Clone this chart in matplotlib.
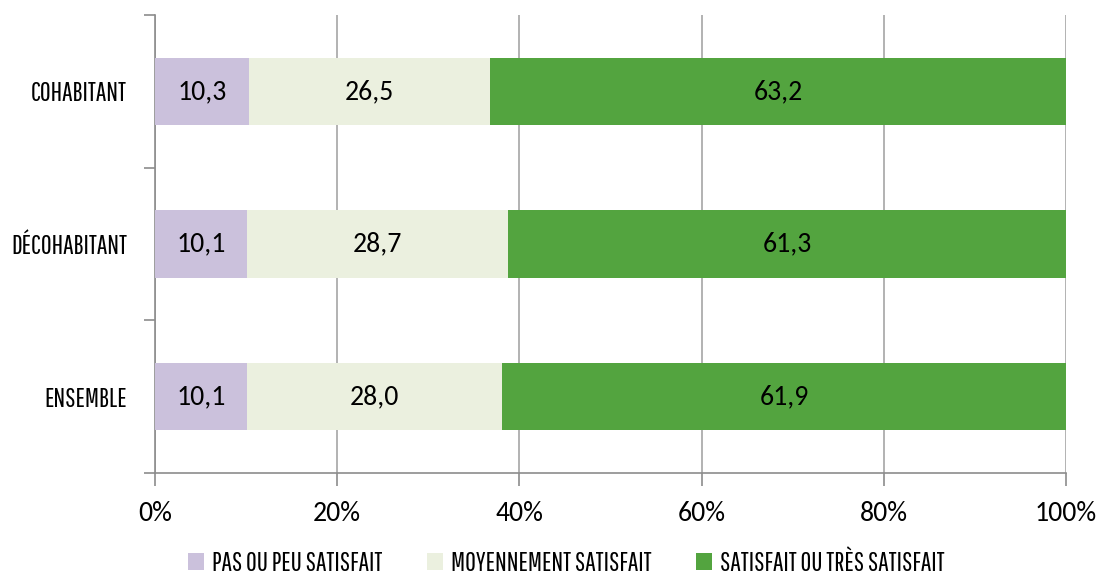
import numpy as np
import matplotlib.pyplot as plt
from matplotlib.ticker import FixedLocator, PercentFormatter

# Données
categories = ['ENSEMBLE', 'DÉCOHABITANT', 'COHABITANT']
pas_satisfait = [10.1, 10.1, 10.3]
moyennement = [28.0, 28.7, 26.5]
satisfait = [61.9, 61.3, 63.2]
series_names = ['PAS OU PEU SATISFAIT', 'MOYENNEMENT SATISFAIT', 'SATISFAIT OU TRÈS SATISFAIT']
colors = ['#cbc1dc', '#ebf0df', '#53a43f']

narrow = ['Pathway Gothic One', 'DejaVu Sans']
num_font = ['Carlito', 'DejaVu Sans']

fig = plt.figure(figsize=(11, 5.74), dpi=100)
ax = fig.add_axes([0.1409, 0.176, 0.8282, 0.7979])

y = np.arange(len(categories))
left = np.zeros(len(categories))
for vals, name, c in zip([pas_satisfait, moyennement, satisfait], series_names, colors):
    bars = ax.barh(y, vals, left=left, height=0.44, color=c, label=name, zorder=3)
    for b, v in zip(bars, vals):
        ax.text(b.get_x() + b.get_width() / 2, b.get_y() + b.get_height() / 2,
                f'{v:.1f}'.replace('.', ','), ha='center', va='center',
                fontsize=20, family=num_font, color='black', zorder=4)
    left += np.array(vals)

ax.set_xlim(0, 100)
ax.set_ylim(-0.5, 2.5)
ax.set_xticks(np.arange(0, 101, 20))
ax.xaxis.set_major_formatter(PercentFormatter(decimals=0))
ax.grid(axis='x', color='#a6a6a6', linewidth=1.2, zorder=1)

ax.set_yticks(y)
ax.set_yticklabels(categories, family=narrow, fontsize=19)
ax.yaxis.set_minor_locator(FixedLocator([-0.5, 0.5, 1.5, 2.5]))
ax.tick_params(axis='y', which='major', length=0, pad=20)
ax.tick_params(axis='y', which='minor', length=8, color='#8c8c8c', width=1.2)
ax.tick_params(axis='x', length=9, color='#8c8c8c', width=1.2, pad=11)
for lab in ax.get_xticklabels():
    lab.set_fontsize(20)
    lab.set_family(num_font)

for s in ['top', 'right']:
    ax.spines[s].set_visible(False)
for s in ['left', 'bottom']:
    ax.spines[s].set_color('#8c8c8c')
    ax.spines[s].set_linewidth(1.2)

leg = fig.legend(loc='lower center', bbox_to_anchor=(0.515, -0.045), ncol=3, frameon=False,
                 prop={'family': narrow, 'size': 19}, handlelength=0.6, handleheight=0.6,
                 columnspacing=1.7, handletextpad=0.3)

plt.savefig('out.png', dpi=100)
